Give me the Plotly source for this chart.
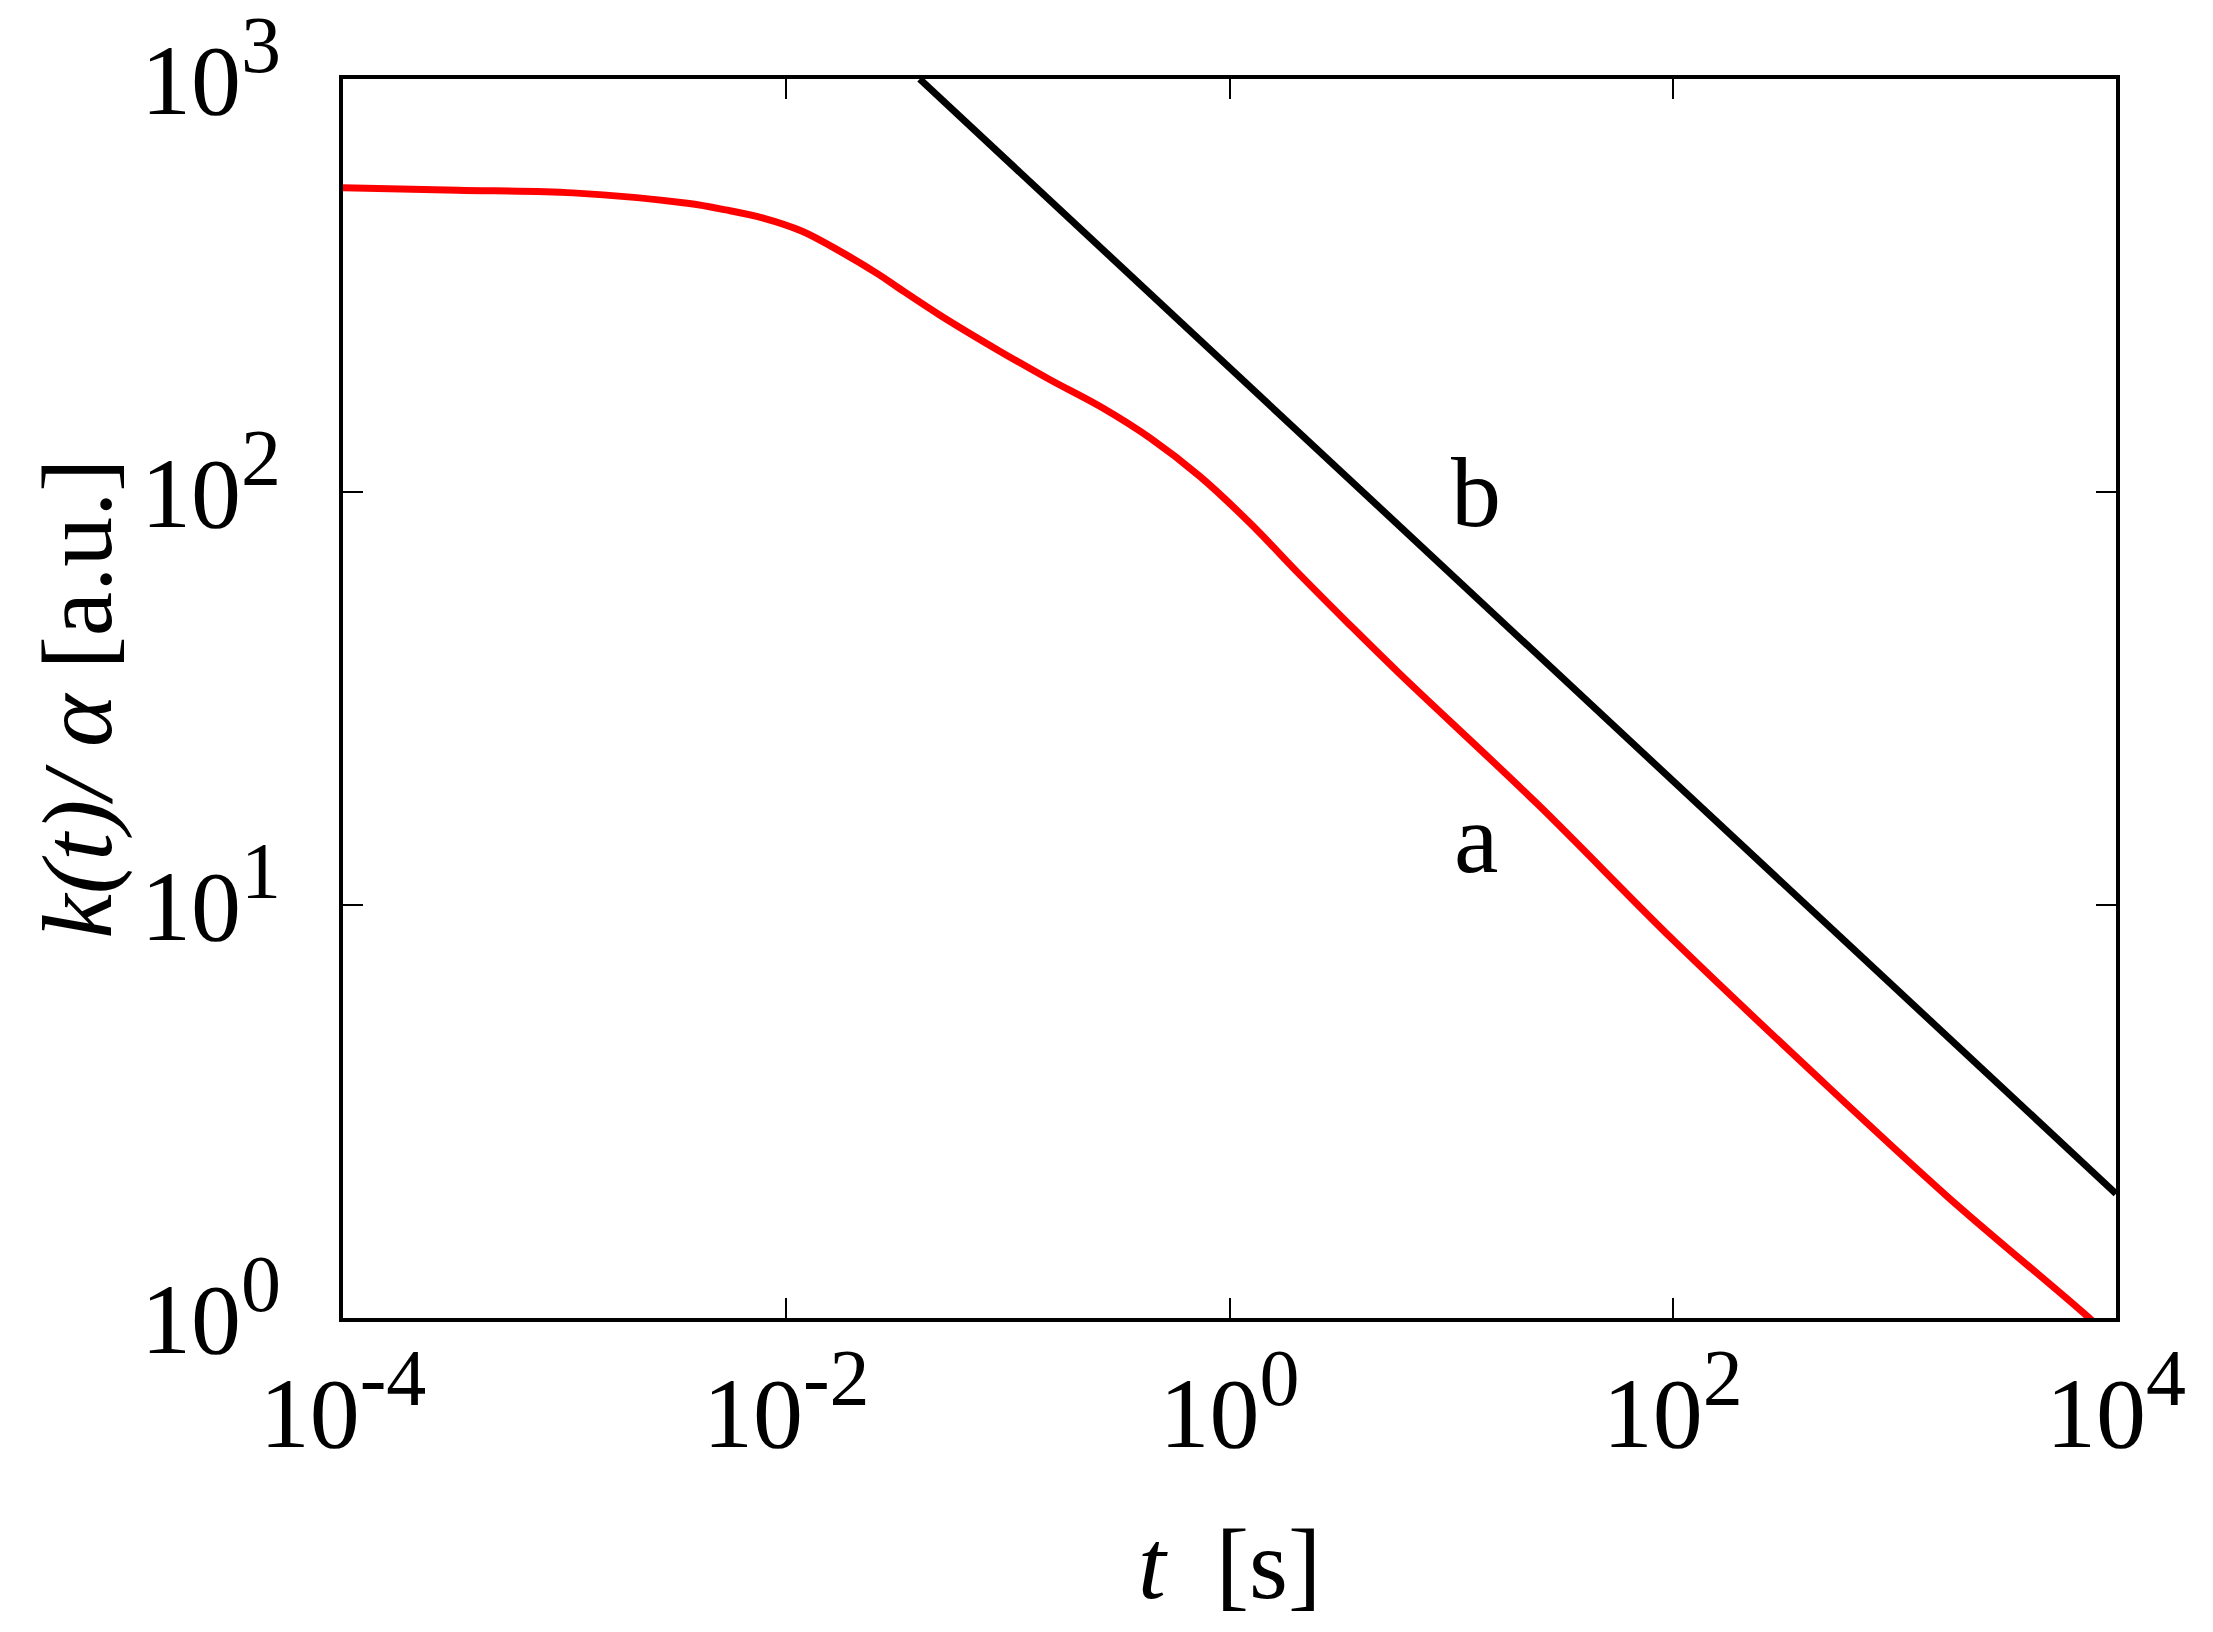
import plotly.graph_objects as go

# curve a (red)
t_a = [1e-4, 3.3e-4, 1.09e-3, 3.58e-3, 5.33e-3, 7.94e-3, 0.0118, 0.0176, 0.0262, 0.0324,
       0.0494, 0.0923, 0.155, 0.261, 0.439, 0.736, 1.24, 2.08, 3.50, 5.89,
       24.4, 101, 422, 1750, 7260, 1e4]
k_a = [545, 538, 530, 500, 482, 460, 428, 382, 336, 311,
       268, 219, 187, 161, 135, 109, 84, 63, 47.6, 36.2,
       17.6, 8.2, 3.96, 1.96, 1.02, 0.87]

# curve b (black)
t_b = [0.04, 0.1, 1, 10, 100, 1000, 10000]
k_b = [1000, 632, 200, 63.2, 20, 6.32, 2.0]

x_tickvals = [1e-4, 1e-2, 1, 1e2, 1e4]
x_exps = ["-4", "-2", "0", "2", "4"]
y_tickvals = [1, 10, 100, 1000]
y_exps = ["0", "1", "2", "3"]

FONT = "Liberation Serif"


def pow_label(e):
    return "10<sup><span style='font-size:80px'>" + e + "</span></sup>"


x_ticktext = [pow_label(e) for e in x_exps]
y_ticktext = [pow_label(e) for e in y_exps]

fig = go.Figure()
fig.add_trace(go.Scatter(x=t_a, y=k_a, mode="lines",
                         line=dict(color="#ff0000", width=7, shape="spline", smoothing=1.0),
                         showlegend=False))
fig.add_trace(go.Scatter(x=t_b, y=k_b, mode="lines",
                         line=dict(color="#000000", width=7),
                         showlegend=False))

axis_common = dict(
    showline=True, linewidth=4, linecolor="black", mirror="ticks",
    ticks="inside", ticklen=20, tickwidth=1.5, tickcolor="black",
    showgrid=False, zeroline=False, ticklabeloverflow="allow", automargin=False,
    tickfont=dict(family=FONT, size=100, color="black"),
)

fig.update_xaxes(type="log", range=[-4, 4], tickvals=x_tickvals, ticktext=x_ticktext,
                 ticklabelstandoff=5, **axis_common)
fig.update_yaxes(type="log", range=[0, 3], tickvals=y_tickvals, ticktext=y_ticktext,
                 ticklabelstandoff=38, **axis_common)

annotations = [
    dict(text="<i>k(t)/ α</i> [a.u.]", xref="paper", yref="paper", x=-0.150, y=0.5,
         xanchor="center", yanchor="middle", textangle=-90, showarrow=False,
         font=dict(family=FONT, size=100, color="black")),
    dict(text="<i>t</i>\u00a0\u00a0[s]", xref="paper", yref="paper", x=0.5, y=-0.199,
         xanchor="center", yanchor="middle", showarrow=False,
         font=dict(family=FONT, size=100, color="black")),
    dict(text="b", xref="x", yref="y", x=1.11, y=2.0, xanchor="center", yanchor="middle",
         showarrow=False, font=dict(family=FONT, size=100, color="black")),
    dict(text="a", xref="x", yref="y", x=1.11, y=1.16, xanchor="center", yanchor="middle",
         showarrow=False, font=dict(family=FONT, size=100, color="black")),
]

# page body has an 8px margin, so the figure is 8px smaller than the window
fig.update_layout(
    width=2205, height=1624, autosize=False,
    margin=dict(l=335, r=97, t=71, b=314),
    paper_bgcolor="white", plot_bgcolor="white",
    annotations=annotations,
    font=dict(family=FONT, color="black"),
)

fig.write_html("out.html")
